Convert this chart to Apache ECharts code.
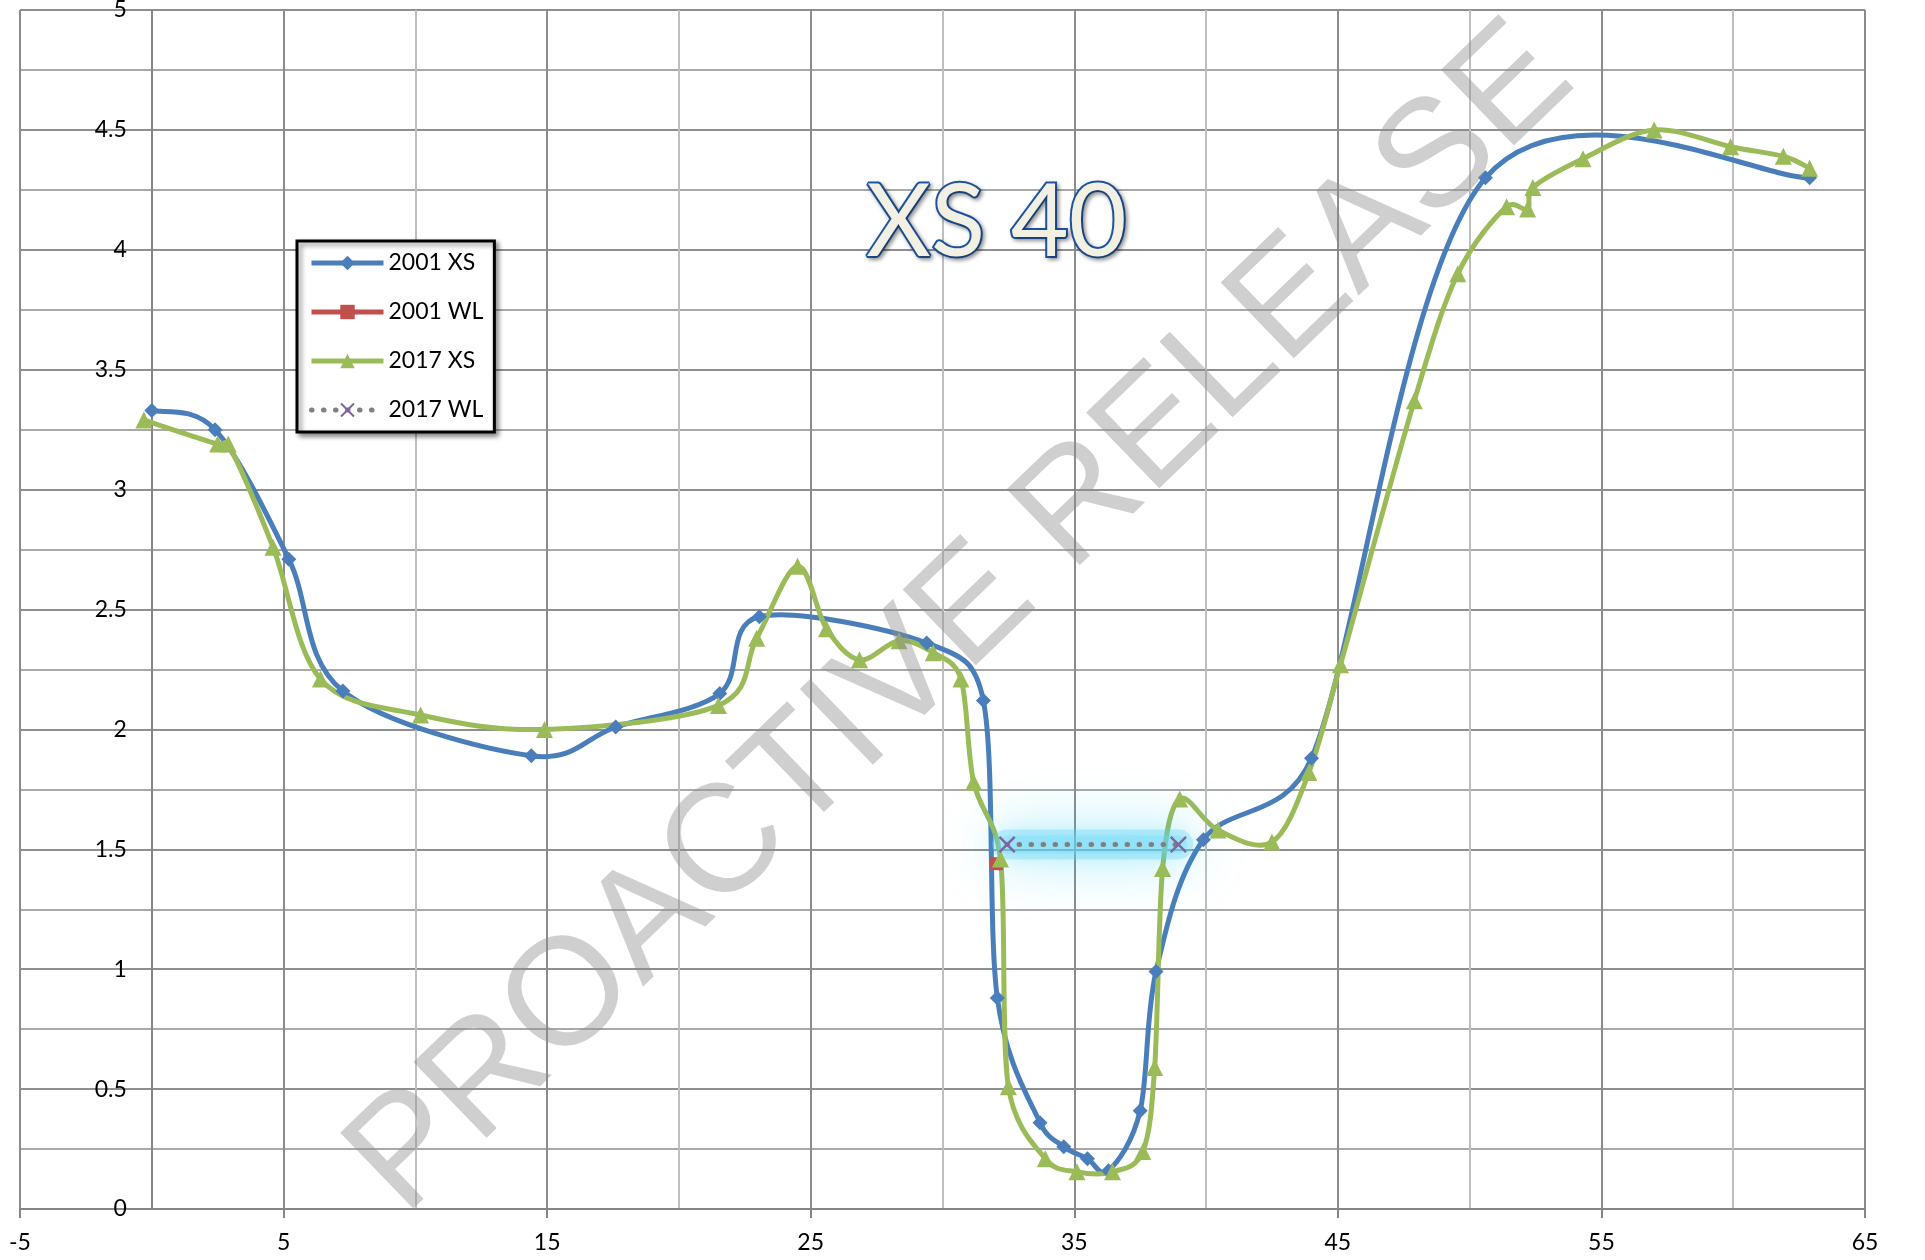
<!DOCTYPE html>
<html>
<head>
<meta charset="utf-8">
<script src="https://cdn.jsdelivr.net/npm/echarts@6/dist/echarts.min.js"></script>
<style>
html,body{margin:0;padding:0;background:#fff;}
#chart{width:1925px;height:1260px;}
</style>
</head>
<body>
<div id="chart"></div>
<script>
// ---- data (x = station, y = elevation) ----
const xs2001 = [
  [0, 3.33], [2.4, 3.25], [5.2, 2.71], [7.25, 2.16], [14.4, 1.89], [17.6, 2.01],
  [21.55, 2.15], [23.05, 2.47], [29.4, 2.36], [31.55, 2.12], [32.08, 0.88],
  [33.7, 0.36], [34.6, 0.26], [35.5, 0.21], [36.3, 0.16], [37.5, 0.41],
  [38.1, 0.99], [39.9, 1.54], [44.0, 1.88], [50.6, 4.30], [62.9, 4.30]
];
const wl2001 = [[32.05, 1.44]];
const xs2017 = [
  [-0.3, 3.29], [2.5, 3.19], [2.9, 3.19], [4.6, 2.76], [6.4, 2.21], [10.2, 2.06],
  [14.9, 2.0], [21.5, 2.10], [22.95, 2.38], [24.5, 2.68], [25.6, 2.42], [26.85, 2.29],
  [28.35, 2.37], [29.65, 2.32], [30.7, 2.21], [31.18, 1.78], [32.2, 1.46], [32.5, 0.51],
  [33.9, 0.21], [35.1, 0.155], [36.45, 0.155], [37.6, 0.24], [38.05, 0.59], [38.35, 1.42],
  [39.0, 1.71], [40.45, 1.58], [42.5, 1.53], [43.9, 1.82], [45.1, 2.27], [47.9, 3.37],
  [49.55, 3.90], [51.4, 4.18], [52.2, 4.17], [52.4, 4.26], [54.3, 4.38], [57.0, 4.50],
  [59.9, 4.43], [61.9, 4.39], [62.9, 4.34]
];
const wl2017 = [[32.45, 1.52], [38.95, 1.52]];
const seriesNames = ['2001 XS', '2001 WL', '2017 XS', '2017 WL'];
const xRange = [-5, 65];   // tick labels -5, 5, 15 ... 65
const xStep = 10;
const yRange = [0, 5];     // tick labels 0, 0.5 ... 5
const yStep = 0.5;
const titleText = 'XS 40';
const watermarkText = 'PROACTIVE RELEASE';

const FONT = 'Lato';
const C_BLUE = '#4A7EBB', C_RED = '#C0504D', C_GREEN = '#9BBB59', C_PURPLE = '#8064A2', C_GRAY = '#7F7F7F';

const GRID = {left: 20, right: 60, top: 10, bottom: 51};
const CHART_W = 1925;
// the value axis crosses the horizontal axis at x = 0
const yAxisCross = 0;
const yAxisOffset = -((yAxisCross - xRange[0]) / (xRange[1] - xRange[0])) * (CHART_W - GRID.left - GRID.right);

// Excel-style smoothed Bezier path through pixel points
function dist(a, b) { return Math.hypot(b[0] - a[0], b[1] - a[1]); }
function excelSmoothPath(p) {
  let d = 'M' + p[0][0] + ',' + p[0][1];
  for (let i = 0; i < p.length - 1; i++) {
    const p0 = p[i - 1] || p[i], p1 = p[i], p2 = p[i + 1], p3 = p[i + 2] || p[i + 1];
    const d12 = dist(p1, p2), d02 = dist(p0, p2), d13 = dist(p1, p3);
    let f = 1 / 6, g = 1 / 6;
    if (d02 / 6 >= d12 / 2 && d02 > 0) f = d12 / d02 / 2;
    if (d13 / 6 >= d12 / 2 && d13 > 0) g = d12 / d13 / 2;
    const c1x = p1[0] + f * (p2[0] - p0[0]), c1y = p1[1] + f * (p2[1] - p0[1]);
    const c2x = p2[0] - g * (p3[0] - p1[0]), c2y = p2[1] - g * (p3[1] - p1[1]);
    d += ' C' + c1x + ',' + c1y + ' ' + c2x + ',' + c2y + ' ' + p2[0] + ',' + p2[1];
  }
  return d;
}
function curveSeries(pts, color, z) {
  return {
    type: 'custom', coordinateSystem: 'cartesian2d', silent: true, z: z,
    data: pts, encode: {x: 0, y: 1},
    renderItem: function (params, api) {
      if (params.dataIndex !== 0) return null;
      const px = pts.map(function (v) { return api.coord(v); });
      return {
        type: 'path',
        shape: {pathData: excelSmoothPath(px)},
        style: {fill: null, stroke: color, lineWidth: 5, lineJoin: 'round', lineCap: 'round'}
      };
    }
  };
}

const chart = echarts.init(document.getElementById('chart'), null, {renderer: 'canvas'});

const option = {
  animation: false,
  backgroundColor: '#ffffff',
  title: {
    text: titleText,
    left: 861,
    top: 169,
    textStyle: {
      fontFamily: FONT,
      fontSize: 100,
      fontWeight: 'normal',
      color: '#F2F0E3',
      textBorderColor: '#1E56A0',
      textBorderWidth: 4,
      textShadowColor: 'rgba(0,0,0,0.35)',
      textShadowBlur: 4,
      textShadowOffsetX: 2,
      textShadowOffsetY: 2
    }
  },
  legend: {
    data: [
      {name: seriesNames[0], lineStyle: {opacity: 1, width: 5}},
      {name: seriesNames[1], lineStyle: {opacity: 1, width: 5}},
      {name: seriesNames[2], lineStyle: {opacity: 1, width: 5}},
      {name: seriesNames[3], lineStyle: {opacity: 1, width: 5}}
    ],
    orient: 'vertical',
    left: 297,
    top: 241,
    padding: [10, 11, 10, 12],
    itemGap: 25,
    itemWidth: 72,
    itemHeight: 18,
    backgroundColor: '#ffffff',
    borderColor: '#000000',
    borderWidth: 3,
    borderRadius: 0,
    shadowColor: 'rgba(0,0,0,0.45)',
    shadowBlur: 5,
    shadowOffsetX: 3,
    shadowOffsetY: 3,
    textStyle: {fontFamily: FONT, fontSize: 23, color: '#000', lineHeight: 24}
  },
  grid: {left: GRID.left, right: GRID.right, top: GRID.top, bottom: GRID.bottom, outerBoundsMode: 'none', containLabel: false},
  xAxis: {
    type: 'value',
    min: xRange[0], max: xRange[1], interval: xStep,
    axisLine: {show: true, onZero: false, lineStyle: {color: '#868686', width: 2}},
    axisTick: {show: true, length: 9, lineStyle: {color: '#868686', width: 2}},
    axisLabel: {margin: 22, fontFamily: FONT, fontSize: 23, color: '#000'},
    splitLine: {show: true, lineStyle: {color: '#8c8c8c', width: 2}},
    minorTick: {show: false, splitNumber: 2},
    minorSplitLine: {show: true, lineStyle: {color: '#bfbfbf', width: 2}}
  },
  yAxis: {
    type: 'value',
    position: 'left',
    offset: yAxisOffset,
    min: yRange[0], max: yRange[1], interval: yStep,
    axisLine: {show: true, onZero: false, lineStyle: {color: '#868686', width: 2}},
    axisTick: {show: false},
    axisLabel: {show: true, margin: 25, fontFamily: FONT, fontSize: 23, color: '#000'},
    splitLine: {show: true, lineStyle: {color: '#8f8f8f', width: 2}},
    minorTick: {show: false, splitNumber: 2},
    minorSplitLine: {show: true, lineStyle: {color: '#a9a9a9', width: 2}}
  },
  series: [
    curveSeries(xs2001, C_BLUE, 2),
    {
      name: seriesNames[0], type: 'line', data: xs2001,
      symbol: 'diamond', symbolSize: 15,
      lineStyle: {color: C_BLUE, width: 5, opacity: 0},
      itemStyle: {color: C_BLUE}, z: 2
    },
    {
      name: seriesNames[1], type: 'line', data: wl2001,
      symbol: 'rect', symbolSize: 13,
      lineStyle: {color: C_RED, width: 5},
      itemStyle: {color: C_RED}, z: 2
    },
    curveSeries(xs2017, C_GREEN, 2),
    {
      name: seriesNames[2], type: 'line', data: xs2017,
      symbol: 'triangle', symbolSize: 17,
      lineStyle: {color: C_GREEN, width: 5, opacity: 0},
      itemStyle: {color: C_GREEN}, z: 2
    },
    {
      // glow behind the 2017 water level
      type: 'line', data: wl2017, silent: true, symbol: 'none', z: 2,
      lineStyle: {
        color: 'rgba(110,215,245,0.35)', width: 30, cap: 'round',
        shadowBlur: 55, shadowColor: 'rgba(0,195,240,1)'
      }
    },
    {
      type: 'line', data: wl2017, silent: true, symbol: 'none', z: 2,
      lineStyle: {
        color: 'rgba(120,220,248,0.3)', width: 18, cap: 'round',
        shadowBlur: 20, shadowColor: 'rgba(40,205,245,0.9)'
      }
    },
    {
      name: seriesNames[3], type: 'line', data: wl2017,
      symbol: 'path://M1,0 L5,4 L9,0 L10,1 L6,5 L10,9 L9,10 L5,6 L1,10 L0,9 L4,5 L0,1 Z',
      symbolSize: 17,
      lineStyle: {color: C_GRAY, width: 5, type: [0.5, 11.5], cap: 'round'},
      itemStyle: {color: C_PURPLE}, z: 2
    }
  ],
  graphic: [
    {
      type: 'text',
      x: 962, y: 620,
      rotation: 44 * Math.PI / 180,
      silent: true,
      z: 100,
      style: {
        text: watermarkText,
        fontFamily: 'Liberation Sans',
        fontSize: 153,
        fill: 'rgba(140,140,140,0.42)',
        align: 'center',
        verticalAlign: 'middle'
      }
    }
  ]
};
chart.setOption(option);
</script>
</body>
</html>
